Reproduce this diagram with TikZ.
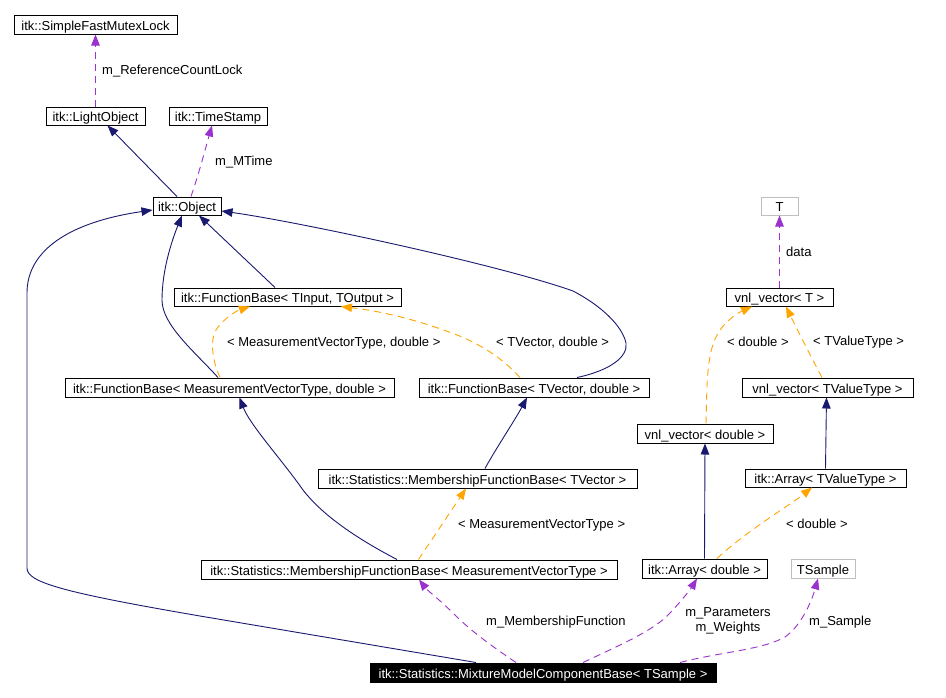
\documentclass[tikz,border=0pt]{standalone}
\usepackage{fontspec}
\setmainfont{Liberation Sans}
\usetikzlibrary{arrows.meta,calc}
\definecolor{navy}{RGB}{25,25,112}
\definecolor{orng}{RGB}{255,165,0}
\definecolor{purp}{RGB}{154,50,205}
\definecolor{gborder}{RGB}{191,191,191}
\begin{document}
\begin{tikzpicture}[x=1pt,y=-1pt,
  every node/.style={font=\fontsize{13}{15}\selectfont},
  box/.style={draw=black,line width=1pt,fill=white,inner sep=0pt,text height=13pt,text depth=2pt},
  gbox/.style={box,draw=gborder},
  bbox/.style={box,fill=black,text=white},
  tip/.style={-{Triangle[length=11pt,width=8.5pt]}},
  inh/.style={draw=navy,line width=0.9pt,tip},
  tmpl/.style={draw=orng,line width=0.9pt,dash pattern=on 7pt off 5pt,tip},
  usee/.style={draw=purp,line width=0.9pt,dash pattern=on 7pt off 5pt,tip},
  lbl/.style={anchor=west,inner sep=0pt}]
\path[use as bounding box,fill=white] (0,0) rectangle (946,697);
% nodes
\node[box,minimum width=163pt,minimum height=19pt] (sfm) at (95.5,24.5) {itk::SimpleFastMutexLock};
\node[box,minimum width=99pt,minimum height=18pt] (lo) at (95.5,116) {itk::LightObject};
\node[box,minimum width=98pt,minimum height=18pt] (tstamp) at (218,116) {itk::TimeStamp};
\node[box,minimum width=68pt,minimum height=18pt] (obj) at (187,206) {itk::Object};
\node[box,minimum width=227pt,minimum height=18pt] (fbio) at (287.5,297) {itk::FunctionBase< TInput, TOutput >};
\node[box,minimum width=329pt,minimum height=19pt] (fbm) at (229.5,387.5) {itk::FunctionBase< MeasurementVectorType, double >};
\node[box,minimum width=230pt,minimum height=19pt] (fbt) at (534,387.5) {itk::FunctionBase< TVector, double >};
\node[box,minimum width=319pt,minimum height=19pt] (mfbt) at (477.5,478.5) {itk::Statistics::MembershipFunctionBase< TVector >};
\node[box,minimum width=416pt,minimum height=19pt] (mfbm) at (409,569.5) {itk::Statistics::MembershipFunctionBase< MeasurementVectorType >};
\node[bbox,minimum width=346pt,minimum height=19pt] (mm) at (543,672.5) {itk::Statistics::MixtureModelComponentBase< TSample >};
\node[box,minimum width=125pt,minimum height=19pt] (ad) at (704.5,568.5) {itk::Array< double >};
\node[gbox,minimum width=64pt,minimum height=19pt] (tsamp) at (823,568.5) {TSample};
\node[box,minimum width=161pt,minimum height=18pt] (arrT) at (825.5,478) {itk::Array< TValueType >};
\node[box,minimum width=136pt,minimum height=19pt] (vd) at (705,433.5) {vnl\_vector< double >};
\node[box,minimum width=171pt,minimum height=19pt] (vt) at (827.5,387.5) {vnl\_vector< TValueType >};
\node[box,minimum width=107pt,minimum height=18pt] (vT) at (779.5,297) {vnl\_vector< T >};
\node[gbox,minimum width=37pt,minimum height=18pt] (tT) at (779.5,206) {T};
% edges
\draw[usee] (lo.north) -- (sfm.south);
\node[lbl] (l1) at (102,71) {m\_ReferenceCountLock};
\draw[inh] ($(obj.north)+(-10,0)$) -- (153,172) -- ($(lo.south)+(12,0)$);
\draw[usee] ($(obj.north)+(4,0)$) .. controls (200,170) and (205,150) .. ($(tstamp.south)+(-6,0)$);
\node[lbl] (l2) at (215,162) {m\_MTime};
\draw[inh] ($(fbio.north)+(-12.5,0)$) -- ($(obj.south)+(12,0)$);
\draw[inh] ($(fbm.north)+(-11.5,0)$) .. controls (195,352) and (162,325) .. (162,300) .. controls (162,270) and (172,240) .. ($(obj.south)+(-5,0)$);
\draw[inh] ($(fbt.north)+(43,0)$) .. controls (612,370) and (628,356) .. (626,343) .. controls (622,325) and (600,305) .. (573,291) .. controls (500,265) and (300,222) .. ($(obj.east)+(0,5)$);
\draw[inh] ($(mfbm.north)+(-12,0)$) .. controls (350,535) and (320,512) .. (303,490) .. controls (282,460) and (250,425) .. ($(fbm.south)+(10,0)$);
\draw[inh] ($(mfbt.north)+(7.5,0)$) .. controls (495,450) and (515,420) .. ($(fbt.south)+(-7,0)$);
\draw[tmpl] ($(mfbm.north)+(9.5,0)$) -- ($(mfbt.south)+(-11.5,0)$);
\node[lbl] (l3) at (458,525) {< MeasurementVectorType >};
\draw[tmpl] ($(fbm.north)+(-9.5,0)$) .. controls (212,360) and (210,340) .. (216,330) .. controls (222,320) and (236,311) .. ($(fbio.south)+(-37.5,0)$);
\node[lbl] (l4) at (227,343) {< MeasurementVectorType, double >};
\draw[tmpl] ($(fbt.north)+(-14,0)$) .. controls (500,356) and (482,346) .. (462,337) .. controls (420,320) and (380,311) .. ($(fbio.south)+(53.5,0)$);
\node[lbl] (l5) at (496,343) {< TVector, double >};
\draw[usee] ($(mm.north)+(-27,0)$) .. controls (490,645) and (470,630) .. (455,615) .. controls (440,600) and (427,590) .. ($(mfbm.south)+(10,0)$);
\node[lbl] (l6) at (486,622) {m\_MembershipFunction};
\draw[usee] ($(mm.north)+(40,0)$) .. controls (620,645) and (655,630) .. (670,613) .. controls (682,600) and (690,590) .. ($(ad.south)+(-7.5,0)$);
\node[align=center,inner sep=0pt] (l7) at (728,621) {m\_Parameters\\m\_Weights};
\draw[usee] ($(mm.north)+(137,0)$) .. controls (720,652) and (762,650) .. (785,637) .. controls (802,625) and (812,600) .. ($(tsamp.south)+(-5,0)$);
\node[lbl] (l8) at (809,622) {m\_Sample};
\draw[inh] (ad.north) -- (vd.south);
\draw[tmpl] ($(ad.north)+(12.5,0)$) .. controls (745,532) and (790,505) .. ($(arrT.south)+(-13.5,0)$);
\node[lbl] (l9) at (786,524) {< double >};
\draw[inh] (arrT.north) -- ($(vt.south)+(-1,0)$);
\draw[tmpl] ($(vd.north)+(1,0)$) .. controls (707,390) and (706,355) .. (717,335) .. controls (725,320) and (740,312) .. ($(vT.south)+(-27.5,0)$);
\node[lbl] (l10) at (727,342) {< double >};
\draw[tmpl] ($(vt.north)+(-5.5,0)$) .. controls (810,355) and (795,325) .. ($(vT.south)+(6.5,0)$);
\node[lbl] (l11) at (813,342) {< TValueType >};
\draw[usee] (vT.north) -- (tT.south);
\node[lbl] (l12) at (786,252) {data};
\draw[inh] ($(mm.north)+(-67,0)$) -- (200,616) .. controls (60,592) and (27,582) .. (27,568) -- (27,293) .. controls (27,250) and (70,222) .. ($(obj.west)+(0,4)$);
\end{tikzpicture}
\end{document}
